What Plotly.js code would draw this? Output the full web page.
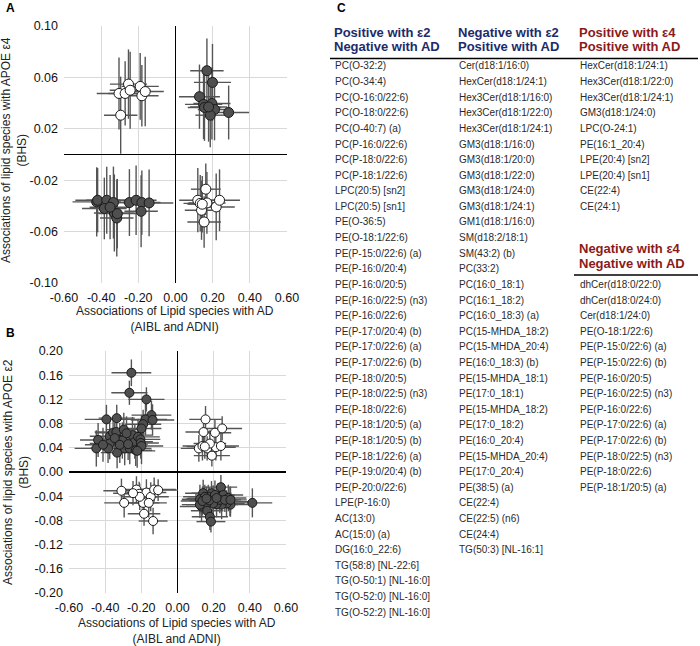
<!DOCTYPE html>
<html><head><meta charset="utf-8">
<script src="https://cdn.plot.ly/plotly-3.0.1.min.js"></script>
<style>html,body{margin:0;padding:0;background:#fff}#chart{width:700px;height:646px}</style>
</head><body><div id="chart"></div>
<script>
// ---------- Panel A (APOE e4) ----------
const aUL_x  = [-0.304,-0.253,-0.271,-0.244,-0.190,-0.181,-0.163,-0.295];
const aUL_y  = [0.0475,0.0548,0.0475,0.0500,0.0530,0.0457,0.0490,0.0306];
const aUL_ex = [0.12,0.10,0.09,0.11,0.10,0.09,0.10,0.09];
const aUL_ey = [0.028,0.027,0.025,0.030,0.026,0.024,0.027,0.030];

const aUR_x  = [0.169,0.199,0.129,0.151,0.156,0.196,0.210,0.187,0.286,0.178];
const aUR_y  = [0.0652,0.0561,0.0450,0.0390,0.0366,0.0397,0.0350,0.0306,0.0327,0.0370];
const aUR_ex = [0.09,0.10,0.11,0.10,0.09,0.10,0.09,0.08,0.11,0.10];
const aUR_ey = [0.025,0.030,0.025,0.027,0.026,0.028,0.024,0.025,0.021,0.027];

const aLL_x  = [-0.424,-0.419,-0.370,-0.383,-0.334,-0.329,-0.316,-0.248,-0.212,-0.181,-0.185,-0.142,-0.313,-0.352];
const aLL_y  = [-0.0369,-0.0356,-0.0356,-0.0420,-0.0374,-0.0455,-0.0494,-0.0374,-0.0356,-0.0374,-0.0442,-0.0377,-0.0460,-0.0410];
const aLL_ex = [0.13,0.12,0.11,0.12,0.10,0.11,0.09,0.12,0.11,0.10,0.09,0.13,0.10,0.11];
const aLL_ey = [0.027,0.025,0.026,0.024,0.028,0.030,0.030,0.026,0.027,0.025,0.028,0.026,0.027,0.025];

const aLR_x  = [0.163,0.120,0.133,0.169,0.140,0.219,0.237,0.154,0.144];
const aLR_y  = [-0.0270,-0.0356,-0.0380,-0.0377,-0.0434,-0.0408,-0.0356,-0.0525,-0.0387];
const aLR_ex = [0.08,0.10,0.09,0.10,0.09,0.10,0.11,0.09,0.08];
const aLR_ey = [0.020,0.025,0.022,0.024,0.023,0.026,0.024,0.020,0.022];

// ---------- Panel B (APOE e2) ----------
const bUL_x  = [-0.255,-0.266,-0.172,-0.393,-0.336,-0.144,-0.177,-0.190,-0.199,-0.138,-0.439,-0.449,-0.375,-0.356,-0.338,-0.297,-0.375,-0.384,-0.319,-0.334,-0.305,-0.292,-0.264,-0.249,-0.236,-0.231,-0.218,-0.205,-0.203,-0.199,-0.223,-0.347,-0.282,-0.319,-0.273,-0.412];
const bUL_y  = [0.164,0.131,0.120,0.087,0.089,0.094,0.087,0.079,0.072,0.086,0.053,0.039,0.059,0.065,0.066,0.070,0.047,0.039,0.053,0.032,0.052,0.039,0.039,0.061,0.050,0.036,0.058,0.054,0.048,0.043,0.035,0.056,0.064,0.045,0.046,0.045];
const bUL_ex = [0.11,0.10,0.10,0.12,0.10,0.11,0.12,0.10,0.11,0.12,0.10,0.12,0.11,0.10,0.12,0.10,0.11,0.10,0.12,0.09,0.11,0.10,0.12,0.11,0.10,0.09,0.12,0.11,0.10,0.12,0.10,0.11,0.10,0.09,0.11,0.10];
const bUL_ey = [0.022,0.020,0.020,0.024,0.022,0.024,0.026,0.024,0.022,0.026,0.028,0.030,0.026,0.024,0.026,0.028,0.026,0.024,0.028,0.026,0.030,0.028,0.026,0.030,0.028,0.026,0.030,0.028,0.026,0.030,0.028,0.026,0.028,0.030,0.026,0.028];

const bUR_x  = [0.155,0.144,0.207,0.247,0.118,0.138,0.164,0.190,0.212,0.240,0.179,0.151];
const bUR_y  = [0.087,0.066,0.065,0.072,0.039,0.043,0.039,0.027,0.041,0.043,0.047,0.042];
const bUR_ex = [0.09,0.10,0.09,0.11,0.10,0.11,0.09,0.10,0.11,0.10,0.09,0.10];
const bUR_ey = [0.022,0.024,0.022,0.020,0.022,0.024,0.020,0.018,0.022,0.024,0.022,0.020];

const bLL_x  = [-0.310,-0.295,-0.227,-0.212,-0.172,-0.148,-0.129,-0.107,-0.190,-0.159,-0.185,-0.135,-0.209,-0.246];
const bLL_y  = [-0.031,-0.051,-0.029,-0.036,-0.034,-0.041,-0.029,-0.030,-0.051,-0.051,-0.069,-0.081,-0.041,-0.035];
const bLL_ex = [0.10,0.11,0.10,0.09,0.11,0.10,0.12,0.11,0.09,0.10,0.09,0.08,0.10,0.11];
const bLL_ey = [0.020,0.024,0.022,0.020,0.022,0.024,0.020,0.018,0.022,0.024,0.020,0.022,0.022,0.020];

const bLR_x  = [0.240,0.142,0.188,0.124,0.146,0.170,0.197,0.225,0.253,0.281,0.290,0.293,0.271,0.244,0.216,0.197,0.133,0.157,0.164,0.179,0.185,0.414,0.124,0.151,0.207,0.234,0.262,0.175,0.138,0.216,0.293,0.160];
const bLR_y  = [-0.025,-0.035,-0.035,-0.045,-0.046,-0.041,-0.046,-0.040,-0.038,-0.043,-0.049,-0.054,-0.052,-0.054,-0.053,-0.052,-0.057,-0.054,-0.064,-0.074,-0.082,-0.051,-0.054,-0.041,-0.038,-0.046,-0.046,-0.047,-0.048,-0.043,-0.046,-0.044];
const bLR_ex = [0.09,0.10,0.11,0.10,0.12,0.11,0.10,0.09,0.11,0.10,0.12,0.11,0.10,0.09,0.11,0.10,0.12,0.11,0.09,0.10,0.08,0.11,0.10,0.12,0.11,0.10,0.09,0.11,0.12,0.10,0.09,0.11];
const bLR_ey = [0.020,0.022,0.020,0.024,0.022,0.020,0.024,0.022,0.020,0.022,0.024,0.020,0.022,0.024,0.022,0.020,0.024,0.022,0.020,0.022,0.018,0.024,0.022,0.020,0.024,0.022,0.020,0.022,0.024,0.020,0.022,0.020];

// ---------- ticks ----------
const xTicks  = [-0.60,-0.40,-0.20,0.00,0.20,0.40,0.60];
const aYTicks = [-0.10,-0.06,-0.02,0.02,0.06,0.10];
const bYTicks = [-0.20,-0.16,-0.12,-0.08,-0.04,0.00,0.04,0.08,0.12,0.16,0.20];

// ---------- Panel C lists ----------
const col1Head = ["Positive with ε2","Negative with AD"];
const col1 = ["PC(O-32:2)","PC(O-34:4)","PC(O-16:0/22:6)","PC(O-18:0/22:6)","PC(O-40:7) (a)","PC(P-16:0/22:6)","PC(P-18:0/22:6)","PC(P-18:1/22:6)","LPC(20:5) [sn2]","LPC(20:5) [sn1]","PE(O-36:5)","PE(O-18:1/22:6)","PE(P-15:0/22:6) (a)","PE(P-16:0/20:4)","PE(P-16:0/20:5)","PE(P-16:0/22:5) (n3)","PE(P-16:0/22:6)","PE(P-17:0/20:4) (b)","PE(P-17:0/22:6) (a)","PE(P-17:0/22:6) (b)","PE(P-18:0/20:5)","PE(P-18:0/22:5) (n3)","PE(P-18:0/22:6)","PE(P-18:1/20:5) (a)","PE(P-18:1/20:5) (b)","PE(P-18:1/22:6) (a)","PE(P-19:0/20:4) (b)","PE(P-20:0/22:6)","LPE(P-16:0)","AC(13:0)","AC(15:0) (a)","DG(16:0_22:6)","TG(58:8) [NL-22:6]","TG(O-50:1) [NL-16:0]","TG(O-52:0) [NL-16:0]","TG(O-52:2) [NL-16:0]"];
const col2Head = ["Negative with ε2","Positive with AD"];
const col2 = ["Cer(d18:1/16:0)","HexCer(d18:1/24:1)","Hex3Cer(d18:1/16:0)","Hex3Cer(d18:1/22:0)","Hex3Cer(d18:1/24:1)","GM3(d18:1/16:0)","GM3(d18:1/20:0)","GM3(d18:1/22:0)","GM3(d18:1/24:0)","GM3(d18:1/24:1)","GM1(d18:1/16:0)","SM(d18:2/18:1)","SM(43:2) (b)","PC(33:2)","PC(16:0_18:1)","PC(16:1_18:2)","PC(16:0_18:3) (a)","PC(15-MHDA_18:2)","PC(15-MHDA_20:4)","PE(16:0_18:3) (b)","PE(15-MHDA_18:1)","PE(17:0_18:1)","PE(15-MHDA_18:2)","PE(17:0_18:2)","PE(16:0_20:4)","PE(15-MHDA_20:4)","PE(17:0_20:4)","PE(38:5) (a)","CE(22:4)","CE(22:5) (n6)","CE(24:4)","TG(50:3) [NL-16:1]"];
const col3Head = ["Positive with ε4","Positive with AD"];
const col3 = ["HexCer(d18:1/24:1)","Hex3Cer(d18:1/22:0)","Hex3Cer(d18:1/24:1)","GM3(d18:1/24:0)","LPC(O-24:1)","PE(16:1_20:4)","LPE(20:4) [sn2]","LPE(20:4) [sn1]","CE(22:4)","CE(24:1)"];
const col4Head = ["Negative with ε4","Negative with AD"];
const col4 = ["dhCer(d18:0/22:0)","dhCer(d18:0/24:0)","Cer(d18:1/24:0)","PE(O-18:1/22:6)","PE(P-15:0/22:6) (a)","PE(P-15:0/22:6) (b)","PE(P-16:0/20:5)","PE(P-16:0/22:5) (n3)","PE(P-16:0/22:6)","PE(P-17:0/22:6) (a)","PE(P-17:0/22:6) (b)","PE(P-18:0/22:5) (n3)","PE(P-18:0/22:6)","PE(P-18:1/20:5) (a)"];

// ---------- build ----------
const W = 700, H = 646;
const FONT = "Liberation Sans, Arial, sans-serif";
const DARK = "#4f4f4f", LIGHT = "#ffffff", BAR = "#555555";
const px = x => x / W;
const py = y => 1 - y / H;

function grp(x, y, ex, ey, fill, xa, ya, size) {
  return {
    type: "scatter", mode: "markers", x: x, y: y, xaxis: xa, yaxis: ya,
    error_x: {type: "data", array: ex, visible: true, color: BAR, thickness: 1.4, width: 0},
    error_y: {type: "data", array: ey, visible: true, color: BAR, thickness: 1.4, width: 0},
    marker: {size: size, color: fill, line: {color: "#1a1a1a", width: 1}},
    hoverinfo: "x+y", showlegend: false, cliponaxis: false
  };
}
const fmt = v => v.toFixed(2);

const traces = [
  grp(aUL_x, aUL_y, aUL_ex, aUL_ey, LIGHT, "x", "y", 10),
  grp(aUR_x, aUR_y, aUR_ex, aUR_ey, DARK, "x", "y", 10),
  grp(aLL_x, aLL_y, aLL_ex, aLL_ey, DARK, "x", "y", 10),
  grp(aLR_x, aLR_y, aLR_ex, aLR_ey, LIGHT, "x", "y", 10),
  grp(bUL_x, bUL_y, bUL_ex, bUL_ey, DARK, "x2", "y2", 9),
  grp(bUR_x, bUR_y, bUR_ex, bUR_ey, LIGHT, "x2", "y2", 9),
  grp(bLL_x, bLL_y, bLL_ex, bLL_ey, LIGHT, "x2", "y2", 9),
  grp(bLR_x, bLR_y, bLR_ex, bLR_ey, DARK, "x2", "y2", 9)
];

function axis(dom, range, ticks, anchor) {
  return {
    domain: dom, range: range, anchor: anchor,
    tickmode: "array", tickvals: ticks, ticktext: ticks.map(fmt),
    showgrid: true, gridcolor: "#d9d9d9", gridwidth: 1,
    zeroline: true, zerolinecolor: "#000000", zerolinewidth: 1.5,
    showline: false, ticks: "", ticklabelstandoff: 5,
    tickfont: {family: FONT, size: 12.5, color: "#111"},
    fixedrange: true
  };
}

const annotations = [];
function txt(x, y, text, opts) {
  annotations.push(Object.assign({
    xref: "paper", yref: "paper", x: px(x), y: py(y), text: text,
    showarrow: false, xanchor: "left", yanchor: "middle",
    font: {family: FONT, size: 10, color: "#2a2a2a"}
  }, opts || {}));
}
// panel letters
txt(4, 8, "<b>A</b>", {font: {family: FONT, size: 12, color: "#000"}});
txt(4, 333, "<b>B</b>", {font: {family: FONT, size: 12, color: "#000"}});
txt(335, 8, "<b>C</b>", {font: {family: FONT, size: 12, color: "#000"}});
// axis titles
const tfont = {family: FONT, size: 12, color: "#222"};
txt(14, 150, "Associations of lipid species with APOE ε4<br>(BHS)", {xanchor: "center", textangle: -90, font: tfont});
txt(175, 319, "Associations of Lipid species with AD<br>(AIBL and ADNI)", {xanchor: "center", font: tfont});
txt(16, 472, "Associations of lipid species with APOE ε2<br>(BHS)", {xanchor: "center", textangle: -90, font: tfont});
txt(177, 631, "Associations of Lipid species with AD<br>(AIBL and ADNI)", {xanchor: "center", font: tfont});

// panel C
const NAVY = "#1d2b6b", RED = "#8b1a1a";
const Y0 = 66, DY = 15.6;
function column(x, head, items, color, yHead1, yFirst) {
  txt(x, yHead1, "<b>" + head[0] + "</b>", {font: {family: FONT, size: 13, color: color}});
  txt(x, yHead1 + 15, "<b>" + head[1] + "</b>", {font: {family: FONT, size: 13, color: color}});
  items.forEach((s, i) => txt(x + 1, yFirst + i * DY, s));
}
column(332, col1Head, col1, NAVY, 32, Y0);
column(456, col2Head, col2, NAVY, 32, Y0);
column(577, col3Head, col3, RED, 32, Y0);
column(577, col4Head, col4, RED, 248, Y0 + 14 * DY);

const shapes = [
  {type: "line", xref: "paper", yref: "paper", x0: px(330), x1: px(698), y0: py(58.5), y1: py(58.5), line: {color: "#000", width: 1.5}},
  {type: "line", xref: "paper", yref: "paper", x0: px(574), x1: px(698), y0: py(275), y1: py(275), line: {color: "#000", width: 1.5}}
];

const layout = {
  width: W, height: H, margin: {l: 0, r: 0, t: 0, b: 0},
  paper_bgcolor: "#fff", plot_bgcolor: "#fff",
  font: {family: FONT},
  showlegend: false,
  xaxis: axis([px(64), px(287)], [-0.6, 0.6], xTicks, "y"),
  yaxis: axis([py(283), py(26)], [-0.1, 0.1], aYTicks, "x"),
  xaxis2: axis([px(69), px(286)], [-0.6, 0.6], xTicks, "y2"),
  yaxis2: axis([py(593), py(351)], [-0.2, 0.2], bYTicks, "x2"),
  annotations: annotations,
  shapes: shapes
};
Plotly.newPlot("chart", traces, layout, {staticPlot: true, displayModeBar: false});
</script></body></html>
